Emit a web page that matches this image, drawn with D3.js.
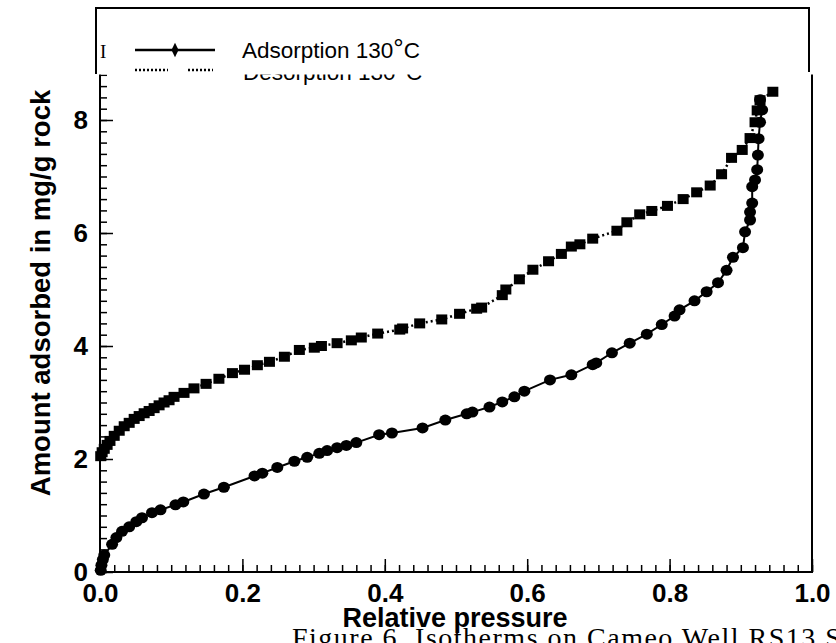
<!DOCTYPE html>
<html>
<head>
<meta charset="utf-8">
<script src="https://cdn.jsdelivr.net/npm/d3@7"></script>
<style>
  body { margin: 0; background: #fff; }
  text { fill: #000; }
</style>
</head>
<body>
<div id="chart"></div>
<script>
// adsorption branch (circles, solid line)
var adsX = [0.001, 0.002, 0.004, 0.006, 0.017, 0.023, 0.031, 0.041, 0.051, 0.059, 0.073, 0.085, 0.106, 0.117,
  0.146, 0.174, 0.217, 0.228, 0.249, 0.273, 0.291, 0.308, 0.319, 0.333, 0.346, 0.360, 0.392, 0.410, 0.453,
  0.485, 0.515, 0.523, 0.547, 0.565, 0.582, 0.596, 0.632, 0.662, 0.692, 0.697, 0.719, 0.744, 0.768, 0.789,
  0.807, 0.814, 0.835, 0.852, 0.868, 0.880, 0.889, 0.903, 0.906, 0.913, 0.913, 0.916, 0.916, 0.920, 0.923,
  0.924, 0.925, 0.927, 0.930, 0.927];
var adsY = [0.03, 0.12, 0.22, 0.30, 0.49, 0.61, 0.72, 0.80, 0.89, 0.96, 1.05, 1.10, 1.19, 1.24,
  1.38, 1.50, 1.70, 1.75, 1.85, 1.96, 2.03, 2.10, 2.15, 2.20, 2.24, 2.29, 2.43, 2.46, 2.55,
  2.69, 2.80, 2.83, 2.92, 3.01, 3.10, 3.20, 3.40, 3.49, 3.67, 3.70, 3.88, 4.05, 4.21, 4.38,
  4.53, 4.64, 4.80, 4.96, 5.12, 5.34, 5.57, 5.74, 6.02, 6.23, 6.37, 6.53, 6.82, 6.94, 7.12,
  7.38, 7.67, 7.96, 8.18, 8.36];

// desorption branch (squares, dotted line)
var desX = [0.001, 0.003, 0.006, 0.010, 0.014, 0.020, 0.027, 0.034, 0.041, 0.048, 0.055, 0.062, 0.069, 0.076,
  0.083, 0.090, 0.097, 0.104, 0.118, 0.132, 0.149, 0.167, 0.186, 0.203, 0.221, 0.238, 0.259, 0.280, 0.301,
  0.311, 0.333, 0.353, 0.367, 0.390, 0.421, 0.425, 0.449, 0.480, 0.505, 0.529, 0.536, 0.565, 0.570, 0.589,
  0.608, 0.630, 0.648, 0.662, 0.674, 0.692, 0.726, 0.740, 0.758, 0.775, 0.797, 0.819, 0.838, 0.857, 0.873,
  0.887, 0.902, 0.913, 0.920, 0.923, 0.927, 0.945];
var desY = [2.05, 2.12, 2.18, 2.25, 2.32, 2.41, 2.50, 2.58, 2.64, 2.71, 2.76, 2.81, 2.85, 2.90,
  2.95, 3.00, 3.04, 3.10, 3.17, 3.25, 3.33, 3.42, 3.52, 3.58, 3.66, 3.72, 3.81, 3.93, 3.97,
  4.00, 4.05, 4.10, 4.15, 4.22, 4.29, 4.31, 4.40, 4.47, 4.57, 4.66, 4.68, 4.90, 5.00, 5.18,
  5.35, 5.50, 5.63, 5.76, 5.80, 5.90, 6.04, 6.19, 6.33, 6.39, 6.48, 6.60, 6.72, 6.84, 7.04,
  7.33, 7.47, 7.68, 7.96, 8.17, 8.35, 8.50];

var xTicks = [0, 0.2, 0.4, 0.6, 0.8, 1.0];
var yTicks = [0, 2, 4, 6, 8];
var legendLabels = ["Adsorption 130", "Desorption 130"];
var xTitle = "Relative pressure";
var yTitle = "Amount adsorbed in mg/g rock";
var caption = "Figure 6. Isotherms on Cameo Well RS13 Sand";

var ads = adsX.map(function(d, i) { return {x: d, y: adsY[i]}; });
var des = desX.map(function(d, i) { return {x: d, y: desY[i]}; });

const W = 836, H = 643;
const svg = d3.select("#chart").append("svg")
  .attr("width", W).attr("height", H)
  .style("font-family", "'Liberation Sans', Arial, sans-serif");

const x = d3.scaleLinear().domain([0, 1]).range([100, 812]);
const y = d3.scaleLinear().domain([0, 10]).range([572, 7]);

// x axis: minor + major ticks pointing inward
svg.append("g")
  .attr("transform", "translate(0,572)")
  .call(d3.axisBottom(x).tickValues(d3.range(0, 1.001, 0.02)).tickSize(-7).tickFormat(""))
  .call(function(g) { g.select(".domain").remove(); g.selectAll("line").attr("stroke-width", 1.5); });
svg.append("g")
  .attr("transform", "translate(0,572)")
  .call(d3.axisBottom(x).tickValues(xTicks).tickSize(-13).tickPadding(12).tickFormat(d3.format(".1f")))
  .call(function(g) {
    g.select(".domain").remove();
    g.selectAll("line").attr("stroke-width", 1.5);
    g.selectAll("text").attr("font-size", 26).attr("font-weight", "bold").attr("font-family", "'Liberation Sans', Arial, sans-serif");
  });

// y axis
svg.append("g")
  .attr("transform", "translate(100,0)")
  .call(d3.axisLeft(y).tickValues(d3.range(0, 8.81, 0.2)).tickSize(-7).tickFormat(""))
  .call(function(g) { g.select(".domain").remove(); g.selectAll("line").attr("stroke-width", 1.5); });
svg.append("g")
  .attr("transform", "translate(100,0)")
  .call(d3.axisLeft(y).tickValues(yTicks).tickSize(-13).tickPadding(12).tickFormat(d3.format("d")))
  .call(function(g) {
    g.select(".domain").remove();
    g.selectAll("line").attr("stroke-width", 1.5);
    g.selectAll("text").attr("font-size", 26).attr("font-weight", "bold").attr("font-family", "'Liberation Sans', Arial, sans-serif");
  });

// axis lines / frame
svg.append("path")
  .attr("d", "M100,74V572H812V72")
  .attr("fill", "none").attr("stroke", "#000").attr("stroke-width", 2);

// desorption line + squares
svg.append("path")
  .datum(des)
  .attr("fill", "none")
  .attr("stroke", "#000")
  .attr("stroke-width", 2.5)
  .attr("stroke-dasharray", "2,3")
  .attr("d", d3.line().x(function(d) { return x(d.x); }).y(function(d) { return y(d.y); }));
svg.selectAll(".sq")
  .data(des).enter().append("rect")
  .attr("x", function(d) { return x(d.x) - 5.5; })
  .attr("y", function(d) { return y(d.y) - 5; })
  .attr("width", 11).attr("height", 10)
  .attr("fill", "#000");

// adsorption line + circles
svg.append("path")
  .datum(ads)
  .attr("fill", "none")
  .attr("stroke", "#000")
  .attr("stroke-width", 2)
  .attr("d", d3.line().x(function(d) { return x(d.x); }).y(function(d) { return y(d.y); }));
svg.selectAll(".dot")
  .data(ads).enter().append("ellipse")
  .attr("cx", function(d) { return x(d.x); })
  .attr("cy", function(d) { return y(d.y); })
  .attr("rx", 6).attr("ry", 5.5)
  .attr("fill", "#000");

// second legend entry, partly hidden under the legend box
var t2 = svg.append("text")
  .attr("x", 243).attr("y", 80)
  .attr("font-size", 22.5)
  .text(legendLabels[1]);
t2.append("tspan").attr("font-size", 26).attr("dy", -1).text("°");
t2.append("tspan").attr("dy", 1).text("C");

svg.append("rect")
  .attr("x", 60).attr("y", 0).attr("width", 776).attr("height", 74.5)
  .attr("fill", "#fff");

// top part of frame
svg.append("path")
  .attr("d", "M96,74V8H809V72")
  .attr("fill", "none").attr("stroke", "#000").attr("stroke-width", 2);

// legend
svg.append("text")
  .attr("x", 100).attr("y", 58)
  .attr("font-family", "'Liberation Serif', serif")
  .attr("font-size", 19)
  .text("I");
svg.append("line")
  .attr("x1", 135).attr("x2", 215).attr("y1", 50).attr("y2", 50)
  .attr("stroke", "#000").attr("stroke-width", 2.5);
svg.append("path")
  .attr("d", d3.symbol().type(d3.symbolDiamond).size(60))
  .attr("transform", "translate(175,50) scale(0.85,1)")
  .attr("fill", "#000");
var t1 = svg.append("text")
  .attr("x", 242).attr("y", 58)
  .attr("font-size", 22.5)
  .text(legendLabels[0]);
t1.append("tspan").attr("font-size", 26).attr("dy", -1).text("°");
t1.append("tspan").attr("dy", 1).text("C");

[[135, 168], [188, 213]].forEach(function(s) {
  svg.append("line")
    .attr("x1", s[0]).attr("x2", s[1]).attr("y1", 70).attr("y2", 70)
    .attr("stroke", "#000").attr("stroke-width", 2.5)
    .attr("stroke-dasharray", "2,2");
});

// axis titles
svg.append("text")
  .attr("x", 455).attr("y", 627)
  .attr("text-anchor", "middle")
  .attr("font-size", 27).attr("font-weight", "bold")
  .text(xTitle);

svg.append("text")
  .attr("transform", "translate(50,293) rotate(-90)")
  .attr("text-anchor", "middle")
  .attr("font-size", 27.5).attr("font-weight", "bold")
  .text(yTitle);

// caption, cut off by the bottom of the page
svg.append("text")
  .attr("x", 292).attr("y", 647)
  .attr("font-family", "'Liberation Serif', serif")
  .attr("font-size", 28)
  .attr("letter-spacing", 1.5)
  .text(caption);
</script>
</body>
</html>
